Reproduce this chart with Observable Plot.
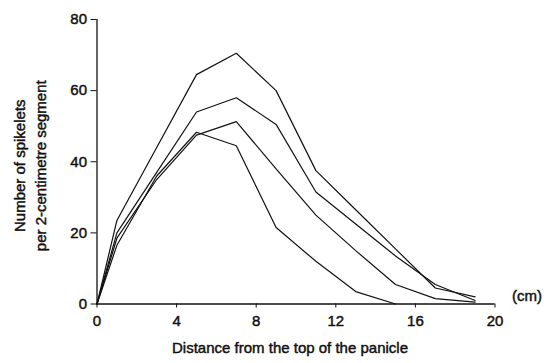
<!DOCTYPE html>
<html>
<head>
<meta charset="utf-8">
<script src="https://cdn.jsdelivr.net/npm/d3@7"></script>
<script src="https://cdn.jsdelivr.net/npm/@observablehq/plot@0.6"></script>
<style>
  html, body { margin: 0; padding: 0; background: #fff; }
  #chart svg text { stroke: #111; stroke-width: 0.45px; }
</style>
</head>
<body>
<div id="chart"></div>
<script>
// Distance from the top of the panicle (cm) – midpoints of 2-cm segments
const distance = [0, 1, 3, 5, 7, 9, 11, 13, 15, 17, 19];
// Number of spikelets per 2-centimetre segment, four panicle curves
const curveA = [0, 23.5, 44, 64.5, 70.5, 60, 37.5, 26.5, 15.5, 4.5, 2];
const curveB = [0, 20, 37, 54, 58, 50.5, 31.5, 22.5, 13.5, 5.5, 1];
const curveC = [0, 18.5, 35, 47.5, 51.3, 38, 25, 15, 5.5, 1.5, 0.5];
const curveD = [0, 16.5, 36, 48.3, 44.5, 21.5, 12, 3.5, 0];
const xTicks = [0, 4, 8, 12, 16, 20];
const yTicks = [0, 20, 40, 60, 80];
const xLabel = "Distance from the top of the panicle";
const yLabel = "Number of spikelets\nper 2-centimetre segment";
const unitLabel = "(cm)";

const series = [
  {name: "A", values: curveA},
  {name: "B", values: curveB},
  {name: "C", values: curveC},
  {name: "D", values: curveD}
];
const rows = series.flatMap(s => s.values.map((v, i) => ({series: s.name, x: distance[i], y: v})));

const chart = Plot.plot({
  width: 544,
  height: 363,
  marginLeft: 96.5,
  marginRight: 49.5,
  marginTop: 19,
  marginBottom: 59.5,
  style: {fontFamily: "'Liberation Sans', Arial, sans-serif", fontSize: "15px", color: "#111", background: "#fff"},
  x: {domain: [0, 20]},
  y: {domain: [0, 80]},
  marks: [
    Plot.axisX({ticks: xTicks, tickSize: 4, tickPadding: 7, label: null, fontSize: 15}),
    Plot.axisY({ticks: yTicks, tickSize: 6, tickPadding: 4, label: null, fontSize: 15}),
    Plot.ruleY([0], {x1: 0, x2: 20, stroke: "#111", strokeWidth: 1.3}),
    Plot.ruleX([0], {y1: 0, y2: 80, stroke: "#111", strokeWidth: 1.3}),
    Plot.line(rows, {x: "x", y: "y", z: "series", stroke: "#111", strokeWidth: 1.2, curve: "linear"}),
    Plot.text([xLabel], {frameAnchor: "bottom", dx: -6, dy: 49, fontSize: 15, fill: "#111"}),
    Plot.text([yLabel], {frameAnchor: "left", textAnchor: "middle", rotate: -90, dx: -68, dy: 4, fontSize: 15, lineHeight: 1.35, fill: "#111"}),
    Plot.text([unitLabel], {frameAnchor: "bottom-right", textAnchor: "start", dx: 17, dy: -3, fontSize: 15, fill: "#111"})
  ]
});
document.getElementById("chart").appendChild(chart);
</script>
</body>
</html>
